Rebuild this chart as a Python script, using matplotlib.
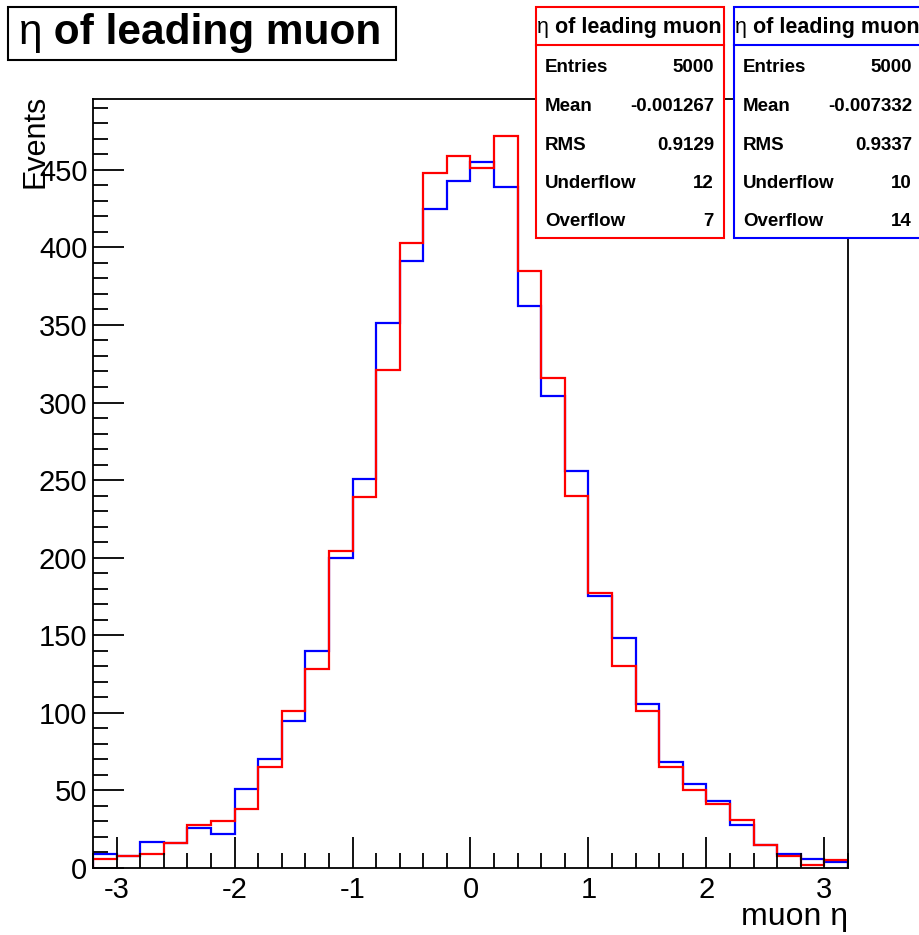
import numpy as np
import matplotlib.pyplot as plt
from matplotlib.patches import Rectangle
from matplotlib.text import Annotation
from matplotlib.ticker import MultipleLocator

plt.rcParams['font.family'] = ['Liberation Sans', 'DejaVu Sans']
plt.rcParams['axes.unicode_minus'] = False

# binning: 32 bins of 0.2 from -3.2 to 3.2
edges = np.linspace(-3.2, 3.2, 33)

# blue histogram (drawn first)
blue_counts = [9, 8, 17, 16, 26, 22, 51, 70, 95, 140, 200, 251, 351, 391, 425, 443,
               455, 439, 362, 304, 256, 175, 148, 106, 68, 54, 43, 28, 15, 9, 6, 4]
# red histogram (drawn on top)
red_counts = [6, 8, 9, 16, 28, 30, 38, 65, 101, 128, 204, 239, 321, 403, 448, 459,
              451, 472, 385, 316, 240, 177, 130, 101, 65, 50, 41, 31, 15, 8, 2, 5]

stat_labels = ["Entries", "Mean", "RMS", "Underflow", "Overflow"]
red_stats = ["5000", "-0.001267", "0.9129", "12", "7"]
blue_stats = ["5000", "-0.007332", "0.9337", "10", "14"]

W, H = 920, 935
fig = plt.figure(figsize=(W / 100, H / 100), dpi=100)
ax = fig.add_axes([93 / W, 1 - 868 / H, (848 - 93) / W, (868 - 99) / H])

ax.stairs(blue_counts, edges, color="blue", lw=1.6)
ax.stairs(red_counts, edges, color="red", lw=1.6)

ax.set_xlim(-3.2, 3.2)
ax.set_ylim(0, 1.05 * max(max(red_counts), max(blue_counts)))

ax.xaxis.set_major_locator(MultipleLocator(1))
ax.xaxis.set_minor_locator(MultipleLocator(0.2))
ax.yaxis.set_major_locator(MultipleLocator(50))
ax.yaxis.set_minor_locator(MultipleLocator(10))
ax.tick_params(which="both", direction="in", top=False, right=False, width=1.3,
               labelsize=21, color="black")
ax.tick_params(which="major", length=22)
ax.tick_params(axis="y", which="major", pad=4)
ax.tick_params(axis="x", which="major", pad=6)
ax.tick_params(which="minor", length=11)
for s in ax.spines.values():
    s.set_linewidth(1.3)

ax.set_xlabel("muon η", fontsize=23, ha="right", va="baseline")
ax.xaxis.set_label_coords(1.0, -0.074)
# ROOT puts the y title at the top, partly over the 450 label
ax.set_ylabel("Events", fontsize=22, ha="right")
ax.yaxis.set_label_coords(-0.056, 1.005)


def px(x, y):
    return x / W, 1 - y / H


def box(x0, y0, x1, y1, color):
    fig.patches.append(Rectangle(px(x0, y1), (x1 - x0) / W, (y1 - y0) / H,
                                 transform=fig.transFigure, fill=True,
                                 facecolor="white", edgecolor=color, lw=1.5,
                                 clip_on=False, zorder=5))


def eta_title(x, y, size, z):
    t = fig.text(*px(x, y), "η", fontsize=size, va="center", ha="left", zorder=z)
    fig.add_artist(Annotation(" of leading muon", xy=(1, 0.5), xycoords=t,
                              va="center", ha="left", fontsize=size,
                              fontweight="bold", zorder=z, annotation_clip=False))


# main title
box(8, 7, 396, 60, "black")
eta_title(19, 33, 30.5, 6)

# stats boxes
for x0, x1, color, vals in [(536, 724, "red", red_stats), (734, 930, "blue", blue_stats)]:
    box(x0, 7, x1, 238, color)
    fig.add_artist(plt.Line2D([x0 / W, x1 / W], [1 - 45 / H, 1 - 45 / H],
                              transform=fig.transFigure, color=color, lw=1.5, zorder=6))
    eta_title(x0 + 1, 27, 15.5, 7)
    for i, (lab, v) in enumerate(zip(stat_labels, vals)):
        yy = 68 + i * 38.5
        fig.text(*px(x0 + 9, yy), lab, fontsize=13.5, fontweight="bold",
                 va="center", ha="left", zorder=7)
        fig.text(*px(x0 + 178, yy), v, fontsize=13.5, fontweight="bold",
                 va="center", ha="right", zorder=7)

fig.savefig("out.png", dpi=100)
